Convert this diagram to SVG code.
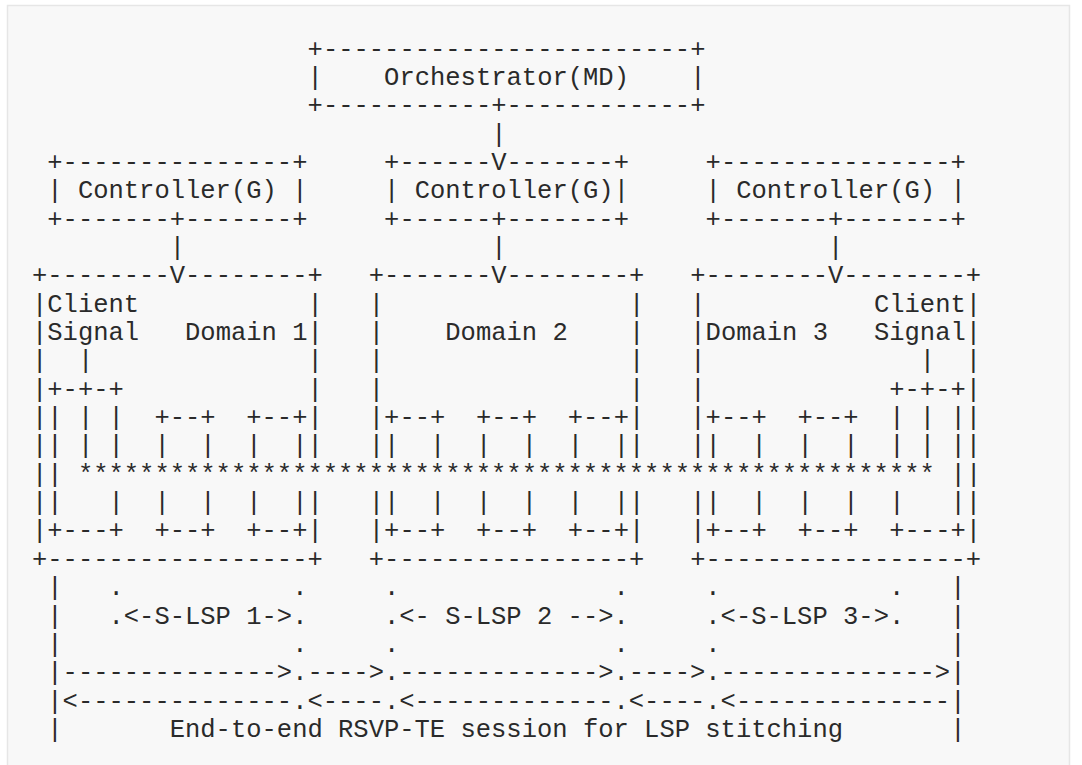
<svg xmlns="http://www.w3.org/2000/svg" width="1082" height="765" viewBox="0 0 1082 765">
<style>
text { font-family: "Liberation Mono", "DejaVu Sans Mono", monospace; font-size: 25.51px; fill: #2a2a2a; white-space: pre; }
</style>
<rect x="0" y="0" width="1082" height="765" fill="#ffffff"/>
<rect x="7.5" y="5.5" width="1062" height="770" fill="#f8f8f8" stroke="#e6e6e6" stroke-width="1.5"/>
<g id="orchestrator">
<text x="307.6" y="56.5" xml:space="preserve">+------------------------+</text>
<text x="307.6" y="84.85" xml:space="preserve">|    Orchestrator(MD)    |</text>
<text x="307.6" y="113.2" xml:space="preserve">+-----------+------------+</text>
</g>
<g id="controller-1">
<text x="47.3" y="169.9" xml:space="preserve">+---------------+</text>
<text x="47.3" y="198.25" xml:space="preserve">| Controller(G) |</text>
<text x="47.3" y="226.6" xml:space="preserve">+-------+-------+</text>
</g>
<g id="controller-2">
<text x="384.1" y="169.9" xml:space="preserve">+------V-------+</text>
<text x="384.1" y="198.25" xml:space="preserve">| Controller(G)|</text>
<text x="384.1" y="226.6" xml:space="preserve">+------+-------+</text>
</g>
<g id="controller-3">
<text x="705.6" y="169.9" xml:space="preserve">+---------------+</text>
<text x="705.6" y="198.25" xml:space="preserve">| Controller(G) |</text>
<text x="705.6" y="226.6" xml:space="preserve">+-------+-------+</text>
</g>
<g id="domain-1">
<text x="32" y="283.3" xml:space="preserve">+--------V--------+</text>
<text x="32" y="311.65" xml:space="preserve">|Client           |</text>
<text x="32" y="340" xml:space="preserve">|Signal   Domain 1|</text>
<text x="32" y="368.35" xml:space="preserve">|  |              |</text>
<text x="32" y="396.7" xml:space="preserve">|+-+-+            |</text>
<text x="32" y="425.05" xml:space="preserve">|| | |  +--+  +--+|</text>
<text x="32" y="453.4" xml:space="preserve">|| | |  |  |  |  ||</text>
<text x="32" y="481.75" xml:space="preserve">||</text>
<text x="32" y="510.1" xml:space="preserve">||   |  |  |  |  ||</text>
<text x="32" y="538.45" xml:space="preserve">|+---+  +--+  +--+|</text>
<text x="32" y="566.8" xml:space="preserve">+-----------------+</text>
</g>
<g id="domain-2">
<text x="368.8" y="283.3" xml:space="preserve">+-------V--------+</text>
<text x="368.8" y="311.65" xml:space="preserve">|                |</text>
<text x="368.8" y="340" xml:space="preserve">|    Domain 2    |</text>
<text x="368.8" y="368.35" xml:space="preserve">|                |</text>
<text x="368.8" y="396.7" xml:space="preserve">|                |</text>
<text x="368.8" y="425.05" xml:space="preserve">|+--+  +--+  +--+|</text>
<text x="368.8" y="453.4" xml:space="preserve">||  |  |  |  |  ||</text>
<text x="368.8" y="510.1" xml:space="preserve">||  |  |  |  |  ||</text>
<text x="368.8" y="538.45" xml:space="preserve">|+--+  +--+  +--+|</text>
<text x="368.8" y="566.8" xml:space="preserve">+----------------+</text>
</g>
<g id="domain-3">
<text x="690.3" y="283.3" xml:space="preserve">+--------V--------+</text>
<text x="690.3" y="311.65" xml:space="preserve">|           Client|</text>
<text x="690.3" y="340" xml:space="preserve">|Domain 3   Signal|</text>
<text x="690.3" y="368.35" xml:space="preserve">|              |  |</text>
<text x="690.3" y="396.7" xml:space="preserve">|            +-+-+|</text>
<text x="690.3" y="425.05" xml:space="preserve">|+--+  +--+  | | ||</text>
<text x="690.3" y="453.4" xml:space="preserve">||  |  |  |  | | ||</text>
<text x="950.6" y="481.75" xml:space="preserve">||</text>
<text x="690.3" y="510.1" xml:space="preserve">||  |  |  |  |   ||</text>
<text x="690.3" y="538.45" xml:space="preserve">|+--+  +--+  +---+|</text>
<text x="690.3" y="566.8" xml:space="preserve">+-----------------+</text>
</g>
<g id="connectors">
<text x="491.3" y="141.55" xml:space="preserve">|</text>
<text x="169.8" y="254.95" xml:space="preserve">|</text>
<text x="491.3" y="254.95" xml:space="preserve">|</text>
<text x="828.1" y="254.95" xml:space="preserve">|</text>
<text x="77.9" y="481.75" xml:space="preserve">********************************************************</text>
<text x="47.3" y="595.15" xml:space="preserve">|   .           .     .              .     .           .   |</text>
<text x="47.3" y="623.5" xml:space="preserve">|   .&lt;-S-LSP 1-&gt;.     .&lt;- S-LSP 2 --&gt;.     .&lt;-S-LSP 3-&gt;.   |</text>
<text x="47.3" y="651.85" xml:space="preserve">|               .     .              .     .               |</text>
<text x="47.3" y="680.2" xml:space="preserve">|--------------&gt;.----&gt;.-------------&gt;.----&gt;.--------------&gt;|</text>
<text x="47.3" y="708.55" xml:space="preserve">|&lt;--------------.&lt;----.&lt;-------------.&lt;----.&lt;--------------|</text>
<text x="47.3" y="736.9" xml:space="preserve">|       End-to-end RSVP-TE session for LSP stitching       |</text>
</g>
</svg>
